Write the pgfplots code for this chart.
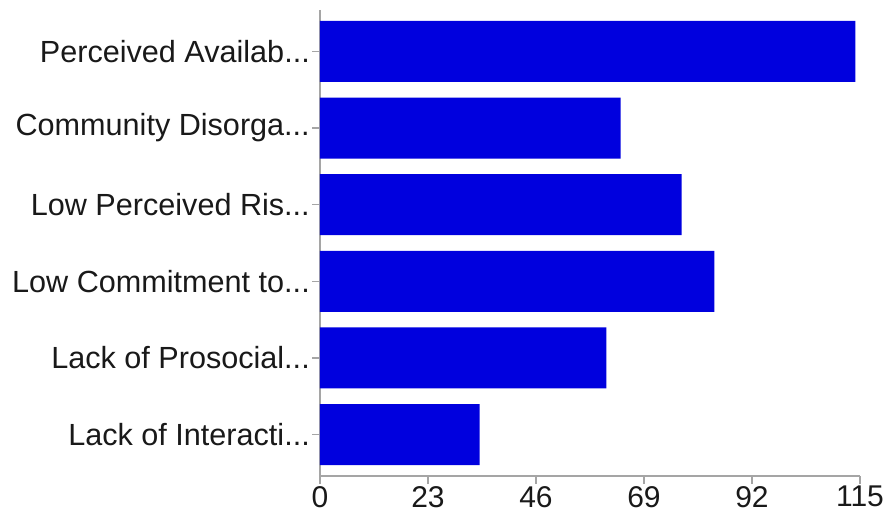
\documentclass[border=0pt]{standalone}
\usepackage{fontspec}
\setmainfont{Liberation Sans}
\usepackage{pgfplots}
\pgfplotsset{compat=1.18}
\definecolor{barblue}{RGB}{0,0,222}
\definecolor{axisgray}{RGB}{165,165,165}
\newcommand{\dd}{...}
\begin{document}
\fontsize{29}{34}\selectfont
\begin{tikzpicture}
\useasboundingbox (0,0) rectangle (887pt,519pt);
\begin{axis}[
  at={(320pt,43pt)}, anchor=south west,
  scale only axis,
  width=540pt, height=466pt,
  xbar, bar width=61pt,
  xmin=0, xmax=115,
  ymin=-0.54, ymax=5.54,
  y dir=reverse,
  axis x line*=bottom, axis y line*=left,
  axis line style={axisgray, line width=1.2pt, -},
  xtick={0,23,46,69,92,115},
  ytick={0,1,2,3,4,5},
  yticklabels={Perceived Availab\dd,Community Disorga\dd,Low Perceived Ris\dd,Low Commitment to\dd,Lack of Prosocial\dd,Lack of Interacti\dd},
  tick align=outside,
  major tick length=8pt,
  tick style={axisgray, line width=1.2pt},
  /pgf/number format/assume math mode=true,
  ticklabel style={text=black!90},
  yticklabel style={inner sep=2pt, font=\fontsize{30.6}{36}\selectfont},
  xticklabel style={inner sep=2pt, font=\fontsize{30}{36}\selectfont},
]
\addplot[fill=barblue, draw=none] coordinates {
(114,0) (64,1) (77,2) (84,3) (61,4) (34,5)
};
\end{axis}
\end{tikzpicture}
\end{document}
